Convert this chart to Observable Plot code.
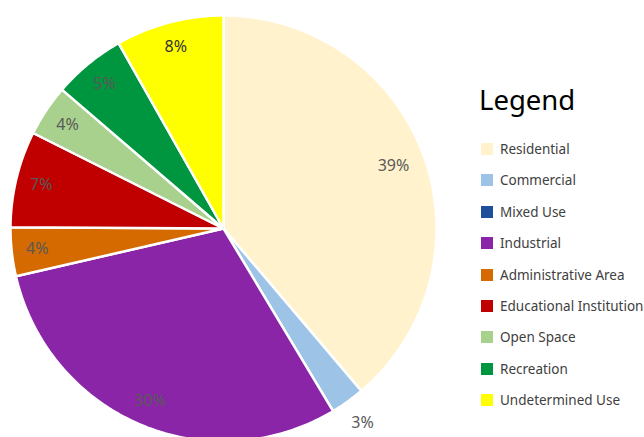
<!DOCTYPE html>
<html>
<head>
<meta charset="utf-8">
<script src="https://cdn.jsdelivr.net/npm/d3@7"></script>
<script src="https://cdn.jsdelivr.net/npm/@observablehq/plot@0.6"></script>
<style>
  html, body { margin: 0; padding: 0; background: #fff; }
  #wrap { position: relative; width: 644px; height: 437px; overflow: hidden; font-family: "Noto Sans", sans-serif; }
  #legend { position: absolute; left: 479px; top: 80px; }
  #legend .title { font-size: 27.5px; color: #000; line-height: 40px; margin-left: 0px; }
  #legend .item { position: absolute; left: 2px; white-space: nowrap; font-size: 13.5px; color: #404040; display: flex; align-items: center; }
  #legend .sw { width: 12px; height: 12px; margin-right: 7px; display: inline-block; }
</style>
</head>
<body>
<div id="wrap"></div>
<script>
const categories = ["Residential", "Commercial", "Mixed Use", "Industrial", "Administrative Area", "Educational Institution", "Open Space", "Recreation", "Undetermined Use"];
const values = [38.8, 2.6, 0, 30.0, 3.7, 7.3, 3.9, 5.5, 8.2];
const labels = ["39%", "3%", "", "30%", "4%", "7%", "4%", "5%", "8%"];
const colors = ["#FFF2CC", "#9DC3E6", "#1F4E9B", "#8B25A8", "#D56A00", "#C00000", "#A9D18E", "#00953F", "#FFFF00"];

const rows = categories.map((c, i) => ({cat: c, value: values[i], label: labels[i]}));
const arcs = d3.pie().sort(null).value(d => d.value)(rows);

// slice outlines in unit-radius coordinates (y up)
const pts = [];
const lab = [];
for (const a of arcs) {
  if (a.endAngle - a.startAngle <= 0) continue;
  const cat = a.data.cat;
  pts.push({cat, x: 0, y: 0});
  const n = Math.max(2, Math.ceil((a.endAngle - a.startAngle) / 0.01));
  for (let k = 0; k <= n; k++) {
    const t = a.startAngle + (a.endAngle - a.startAngle) * k / n;
    pts.push({cat, x: Math.sin(t), y: Math.cos(t)});
  }
  pts.push({cat, x: 0, y: 0});
  const mid = (a.startAngle + a.endAngle) / 2;
  const r = a.data.value < 3 ? 1.12 : (a.data.value > 35 ? 0.85 : 0.88);
  lab.push({cat, text: a.data.label, x: r * Math.sin(mid), y: r * Math.cos(mid)});
}

const R = 213;
const chart = Plot.plot({
  width: 644,
  height: 437,
  margin: 0,
  x: {domain: [-223 / R, 421 / R], axis: null},
  y: {domain: [-209 / R, 228 / R], axis: null},
  color: {domain: categories, range: colors},
  style: {fontFamily: "Noto Sans, sans-serif"},
  marks: [
    Plot.line(pts, {x: "x", y: "y", z: "cat", fill: "cat", stroke: "white", strokeWidth: 2.5, strokeLinejoin: "round"}),
    Plot.text(lab, {x: "x", y: "y", text: "text", fill: d => d.cat === "Undetermined Use" ? "#333333" : "#595959", fontSize: 16})
  ]
});
const wrap = document.getElementById("wrap");
wrap.appendChild(chart);

const legend = document.createElement("div");
legend.id = "legend";
const title = document.createElement("div");
title.className = "title";
title.textContent = "Legend";
legend.appendChild(title);
categories.forEach((c, i) => {
  const it = document.createElement("div");
  it.className = "item";
  it.style.top = (60 + i * 31.4) + "px";
  const sw = document.createElement("span");
  sw.className = "sw";
  sw.style.background = colors[i];
  it.appendChild(sw);
  it.appendChild(document.createTextNode(c));
  legend.appendChild(it);
});
wrap.appendChild(legend);
</script>
</body>
</html>
